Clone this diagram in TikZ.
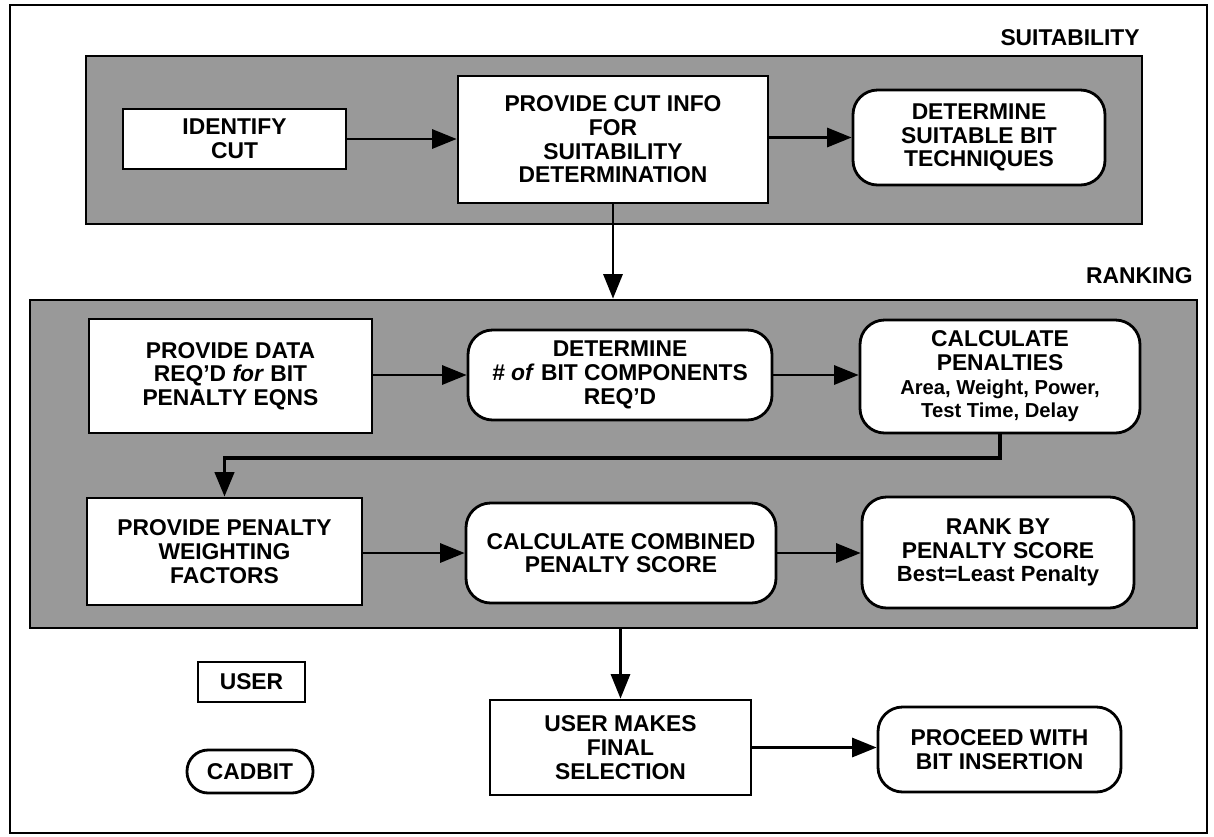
\documentclass[tikz,border=0pt]{standalone}
\usepackage{fontspec}
\setmainfont{Liberation Sans}
\usetikzlibrary{arrows.meta,calc}
\begin{document}
\begin{tikzpicture}[x=0.02cm,y=-0.02cm,
  font=\fontsize{13}{13.5}\selectfont\bfseries,
  panel/.style={draw, line width=1.6pt, fill=black!40, inner sep=0pt},
  sqbox/.style={draw, line width=1.6pt, fill=white, align=center, inner sep=0pt},
  rbox/.style={sqbox, rounded corners=14pt},
  sz/.style 2 args={minimum width=#1*0.02cm, minimum height=#2*0.02cm},
  arr/.style={line width=1.3pt, -{Triangle[length=14pt,width=11pt]}},
  lbl/.style={anchor=east, inner sep=0pt}
]
\useasboundingbox (0,0) rectangle (1214,836);

% outer frame
\draw[line width=0.8pt] (10,5) rectangle (1207,833);

% shaded group panels
\node[panel, sz={1056}{168}] (suit) at (614,140) {};
\node[panel, sz={1167}{328}] (rankp) at (613.5,464) {};
\node[lbl] (suitlbl) at (1140,38) {SUITABILITY};
\node[lbl] (ranklbl) at (1193,276) {RANKING};

% suitability steps
\node[sqbox, sz={223}{60}] (ident) at (234.5,139) {IDENTIFY\\CUT};
\node[sqbox, sz={310}{127}] (pcut) at (613,139.5) {PROVIDE CUT INFO\\FOR\\SUITABILITY\\DETERMINATION};
\node[rbox, sz={252}{95}] (dsuit) at (979,137.5) {DETERMINE\\SUITABLE BIT\\TECHNIQUES};

% ranking steps
\node[sqbox, sz={283}{114}] (pdata) at (230.5,376) {PROVIDE DATA\\REQ'D \textit{for} BIT\\PENALTY EQNS};
\node[rbox, sz={304}{90}] (dnum) at (620,375) {DETERMINE\\\textit{\# of} BIT COMPONENTS\\REQ'D};
\node[rbox, sz={280}{113}] (cpen) at (1000,376.5) {CALCULATE\\PENALTIES\\{\fontsize{11.5}{13}\selectfont Area, Weight, Power,}\\{\fontsize{11.5}{13}\selectfont Test Time, Delay}};
\node[sqbox, sz={275}{107}] (pweight) at (224.5,551.5) {PROVIDE PENALTY\\WEIGHTING\\FACTORS};
\node[rbox, sz={310}{100}] (ccomb) at (621,553) {CALCULATE COMBINED\\PENALTY SCORE};
\node[rbox, sz={272}{111}] (rank) at (998,552.5) {RANK BY\\PENALTY SCORE\\{\fontsize{12.5}{13.5}\selectfont Best=Least Penalty}};

% final steps
\node[sqbox, sz={261}{95}] (final) at (620.5,747.5) {USER MAKES\\FINAL\\SELECTION};
\node[rbox, sz={243}{85}] (proceed) at (999.5,749.5) {PROCEED WITH\\BIT INSERTION};

% legend
\node[sqbox, sz={107}{40}] (user) at (251.5,682) {USER};
\node[rbox, rounded corners=12pt, sz={126}{43}] (cadbit) at (250,771.5) {CADBIT};

% connectors
\draw[arr] (ident.east) -- (pcut.west |- ident.east);
\draw[arr] (pcut.east |- dsuit.west) -- (dsuit.west);
\draw[arr] (pcut.south) -- (pcut.south |- rankp.north);
\draw[arr] (pdata.east |- dnum.west) -- (dnum.west);
\draw[arr] (dnum.east) -- (cpen.west |- dnum.east);
\coordinate (loopy) at (0,458);
\draw[arr, line width=2pt] (cpen.south) -- (cpen.south |- loopy) -| (pweight.north);
\draw[arr] (pweight.east |- ccomb.west) -- (ccomb.west);
\draw[arr] (ccomb.east) -- (rank.west |- ccomb.east);
\draw[arr] (final.north |- rankp.south) -- (final.north);
\draw[arr] (final.east) -- (proceed.west |- final.east);
\end{tikzpicture}
\end{document}
